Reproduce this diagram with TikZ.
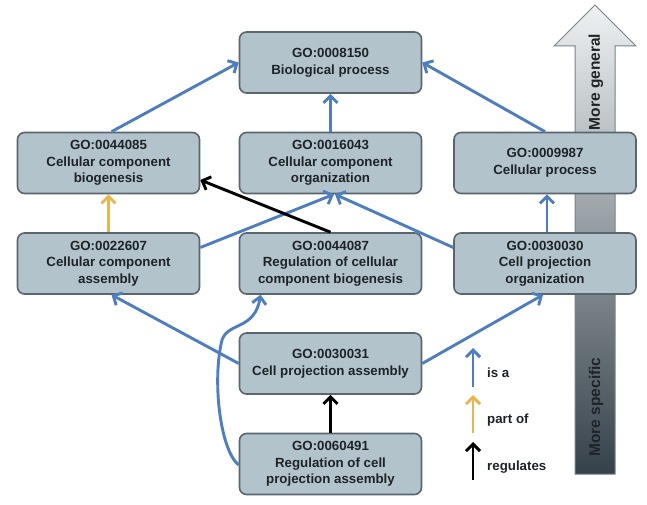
\documentclass[tikz,border=0pt]{standalone}
\usepackage{fontspec}
\setmainfont{Liberation Sans}
\usetikzlibrary{arrows.meta}
\definecolor{boxfill}{HTML}{B3C3CC}
\definecolor{boxline}{HTML}{5A666E}
\definecolor{isablue}{HTML}{4E7DC0}
\definecolor{partyel}{HTML}{E9B54F}
\definecolor{txt}{HTML}{1F2327}
\definecolor{arrtop}{HTML}{EEF1F2}
\definecolor{arrbot}{HTML}{35414A}
\definecolor{arrline}{HTML}{78838B}
\begin{document}
\begin{tikzpicture}[x=1pt,y=-1pt,
  goterm/.style={rectangle, rounded corners=7pt, draw=boxline, line width=1.6pt,
    fill=boxfill, minimum width=182pt, minimum height=61pt, align=center,
    text=txt, font=\fontsize{13.3}{16.6}\selectfont\bfseries, inner sep=0pt},
  tipstyle/.style={-{Straight Barb[length=7pt,width=14pt]}},
  isa/.style={draw=isablue, line width=2.9pt, tipstyle},
  partof/.style={draw=partyel, line width=2.9pt, tipstyle},
  regul/.style={draw=black, line width=2.9pt, tipstyle},
  legtext/.style={anchor=west, text=txt, font=\fontsize{13.3}{16}\selectfont\bfseries, inner sep=0pt},
  bigtext/.style={rotate=90, font=\fontsize{15.5}{18}\selectfont\bfseries, inner sep=0pt}
]
\useasboundingbox (0,0) rectangle (647,505);

% big gradient arrow
\draw[top color=arrtop, bottom color=arrbot, draw=arrline, line width=1pt]
  (575,474) -- (575,46) -- (554,46) -- (595,5) -- (636,46) -- (615,46) -- (615,474) -- cycle;
\node[bigtext, text=txt] (gen) at (596,82) {More general};
\node[bigtext, text=txt] (spec) at (596,407) {More specific};

% GO term nodes
\node[goterm] (n8150) at (330.5,62.5) {GO:0008150\\Biological process};
\node[goterm] (n44085) at (108.5,163) {GO:0044085\\Cellular component\\biogenesis};
\node[goterm] (n16043) at (330.5,163) {GO:0016043\\Cellular component\\organization};
\node[goterm] (n9987) at (545,163) {GO:0009987\\Cellular process};
\node[goterm] (n22607) at (108.5,263.5) {GO:0022607\\Cellular component\\assembly};
\node[goterm] (n44087) at (330.5,263.5) {GO:0044087\\Regulation of cellular\\component biogenesis};
\node[goterm] (n30030) at (545,263.5) {GO:0030030\\Cell projection\\organization};
\node[goterm] (n30031) at (330.5,363.5) {GO:0030031\\Cell projection assembly};
\node[goterm] (n60491) at (330.5,464) {GO:0060491\\Regulation of cell\\projection assembly};

% edges
\draw[isa] ([xshift=3pt]n44085.north) -- (n8150.west);
\draw[isa] (n16043.north) -- (n8150.south);
\draw[isa] (n9987.north) -- (n8150.east);
\draw[partof] (n22607.north) -- (n44085.south);
\draw[isa] ([yshift=16pt]n22607.east) -- ([xshift=3.5pt]n16043.south);
\draw[isa] ([yshift=16pt]n30030.west) -- ([xshift=4.5pt]n16043.south);
\draw[regul] (n44087.north) -- ([yshift=-17pt]n44085.east);
\draw[isa] ([xshift=2pt]n30030.north) -- ([xshift=2pt]n9987.south);
\draw[isa] (n30031.west) -- ([xshift=3pt]n22607.south);
\draw[isa] (n30031.east) -- ([xshift=-2pt]n30030.south);
\draw[isa] ([yshift=-1pt]n60491.west) .. controls (220,450) and (212,380) .. (222,340)
  .. controls (228,322) and (255,330) .. ([xshift=-70pt]n44087.south);
\draw[regul] (n60491.north) -- (n30031.south);

% legend
\coordinate (isaS) at (473,387);
\coordinate (isaE) at (473,348);
\coordinate (partS) at (473,433);
\coordinate (partE) at (473,395);
\coordinate (regS) at (473,480);
\coordinate (regE) at (473,442);
\draw[isa] (isaS) -- (isaE);
\draw[partof] (partS) -- (partE);
\draw[regul] (regS) -- (regE);
\node[legtext] (isaL) at (487,373) {is a};
\node[legtext] (partL) at (487,420) {part of};
\node[legtext] (regL) at (487,467) {regulates};
\end{tikzpicture}
\end{document}
